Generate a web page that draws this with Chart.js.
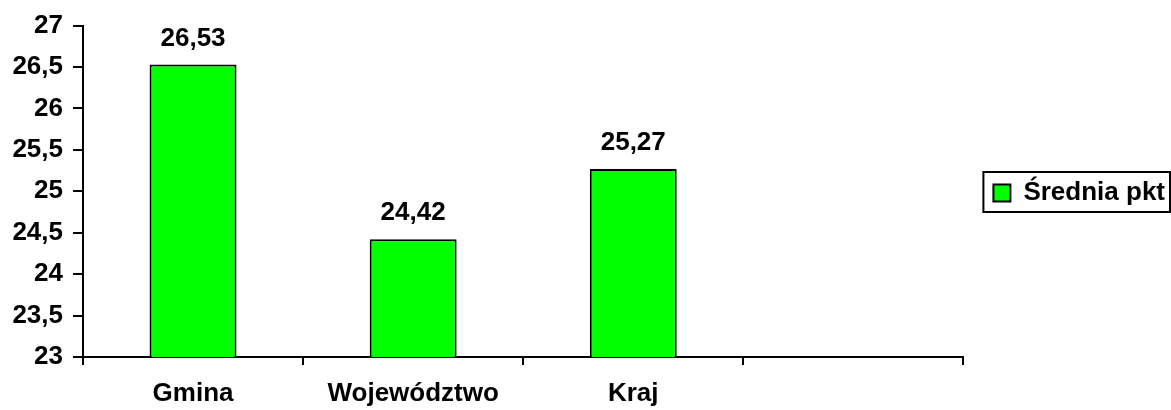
<!DOCTYPE html>
<html>
<head>
<meta charset="utf-8">
<script src="https://cdn.jsdelivr.net/npm/chart.js@4"></script>
<style>
  html, body { margin: 0; padding: 0; background: #fff; }
  #wrap { width: 1171px; height: 410px; }
</style>
</head>
<body>
<div id="wrap"><canvas id="myChart"></canvas></div>
<script>
const categories = ["Gmina", "Województwo", "Kraj", ""];
const averages = [26.53, 24.42, 25.27, null];
const seriesName = "Średnia pkt";
const yMin = 23;
const yMax = 27;
const yStep = 0.5;

const fontFamily = "'Liberation Sans', Arial, sans-serif";
const comma = v => String(v).replace(".", ",");

// values above the bars
const valueLabels = {
  id: "valueLabels",
  afterDatasetsDraw(chart) {
    const ctx = chart.ctx;
    const meta = chart.getDatasetMeta(0);
    ctx.save();
    ctx.font = "bold 26px " + fontFamily;
    ctx.fillStyle = "#000";
    ctx.textAlign = "center";
    ctx.textBaseline = "alphabetic";
    meta.data.forEach((bar, i) => {
      const v = averages[i];
      if (v == null) return;
      ctx.fillText(comma(v), bar.x, bar.y - 19);
    });
    ctx.restore();
  }
};

// legend: nudge into place and draw its frame
const legendFrame = {
  id: "legendFrame",
  afterLayout(chart) {
    const lg = chart.legend;
    const h = lg.bottom - lg.top;
    lg.top = 193 - h / 2;
    lg.bottom = lg.top + h;
    lg.left += 4;
    lg.right += 4;
  },
  afterDraw(chart) {
    const lg = chart.legend;
    const ctx = chart.ctx;
    const x0 = lg.left + lg.options.labels.padding - 10;
    ctx.save();
    ctx.strokeStyle = "#000";
    ctx.lineWidth = 2;
    ctx.strokeRect(x0, 172, chart.width - 1 - x0, 40);
    ctx.restore();
  }
};

const ctx = document.getElementById("myChart");

new Chart(ctx, {
  type: "bar",
  data: {
    labels: categories,
    datasets: [{
      label: seriesName,
      data: averages,
      backgroundColor: "#00FF00",
      borderColor: "#000",
      borderWidth: 2,
      categoryPercentage: 1,
      barPercentage: 0.395
    }]
  },
  options: {
    responsive: true,
    maintainAspectRatio: false,
    animation: false,
    layout: { padding: { top: 25, left: 0, right: 0, bottom: 0 } },
    plugins: {
      tooltip: { enabled: false },
      legend: {
        position: "right",
        labels: {
          boxWidth: 17,
          boxHeight: 17,
          padding: 26,
          color: "#000",
          font: { family: fontFamily, size: 26, weight: "bold" }
        }
      }
    },
    scales: {
      x: {
        afterFit(scale) { scale.height = 53; },
        grid: {
          offset: true,
          drawOnChartArea: false,
          drawTicks: true,
          tickLength: 8,
          color: "#000",
          lineWidth: 2
        },
        border: { color: "#000", width: 2 },
        ticks: {
          color: "#000",
          padding: 13,
          maxRotation: 0,
          font: { family: fontFamily, size: 26, weight: "bold" }
        }
      },
      y: {
        min: yMin,
        max: yMax,
        afterFit(scale) { scale.width = 83; },
        grid: {
          drawOnChartArea: false,
          drawTicks: true,
          tickLength: 10,
          color: "#000",
          lineWidth: 2
        },
        border: { color: "#000", width: 2 },
        ticks: {
          stepSize: yStep,
          color: "#000",
          padding: 10,
          font: { family: fontFamily, size: 26, weight: "bold" },
          callback: v => comma(v)
        }
      }
    }
  },
  plugins: [valueLabels, legendFrame]
});
</script>
</body>
</html>
